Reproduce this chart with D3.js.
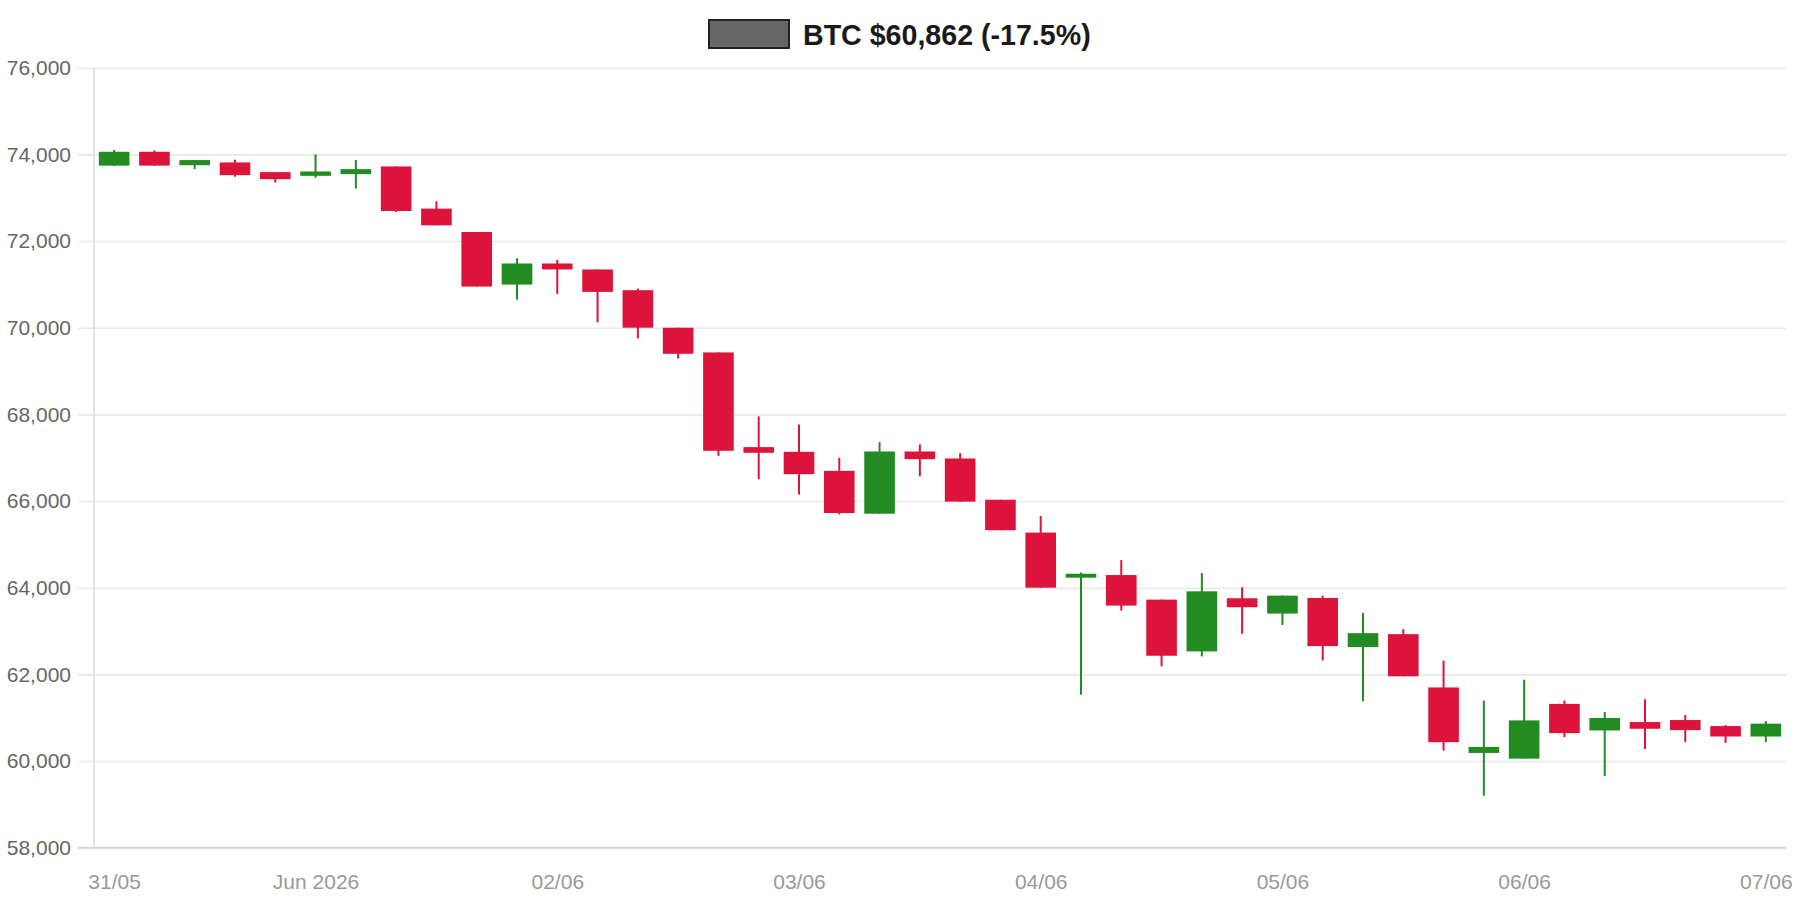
<!DOCTYPE html>
<html>
<head>
<meta charset="utf-8">
<script src="https://cdn.jsdelivr.net/npm/d3@7"></script>
<style>
  html, body { margin: 0; padding: 0; background: #fff; }
  svg { display: block; font-family: "Liberation Sans", Arial, Helvetica, sans-serif; }
</style>
</head>
<body>
<svg id="chart" width="1800" height="900"></svg>
<script>
// ---- data (4-hour candles) ----
const times = [
  "2026-05-31T04:00","2026-05-31T08:00","2026-05-31T12:00","2026-05-31T16:00","2026-05-31T20:00",
  "2026-06-01T00:00","2026-06-01T04:00","2026-06-01T08:00","2026-06-01T12:00","2026-06-01T16:00","2026-06-01T20:00",
  "2026-06-02T00:00","2026-06-02T04:00","2026-06-02T08:00","2026-06-02T12:00","2026-06-02T16:00","2026-06-02T20:00",
  "2026-06-03T00:00","2026-06-03T04:00","2026-06-03T08:00","2026-06-03T12:00","2026-06-03T16:00","2026-06-03T20:00",
  "2026-06-04T00:00","2026-06-04T04:00","2026-06-04T08:00","2026-06-04T12:00","2026-06-04T16:00","2026-06-04T20:00",
  "2026-06-05T00:00","2026-06-05T04:00","2026-06-05T08:00","2026-06-05T12:00","2026-06-05T16:00","2026-06-05T20:00",
  "2026-06-06T00:00","2026-06-06T04:00","2026-06-06T08:00","2026-06-06T12:00","2026-06-06T16:00","2026-06-06T20:00",
  "2026-06-07T00:00"
];
const open  = [73740,74060,73750,73814,73590,73505,73544,73721,72748,72208,70995,
               71482,71344,70865,70000,69429,67244,67136,66696,65708,67144,66982,66030,
               65272,64231,64292,63725,62530,63756,63403,63763,62630,62928,61698,60187,
               60055,61318,60706,60900,60946,60807,60566];
const high  = [74100,74090,73870,73876,73590,74000,73868,73721,72918,72208,71605,
               71567,71344,70904,70000,69429,67954,67768,66997,67360,67306,67105,66030,
               65655,64353,64637,63725,64338,64008,63817,63817,63419,63043,62318,61396,
               61876,61396,61132,61427,61062,60830,60923];
const low   = [73730,73740,73660,73482,73350,73459,73212,72671,72362,70949,70647,
               70780,70124,69753,69290,67043,66503,66148,65692,65708,66573,65986,65326,
               64000,61530,63472,62185,62415,62936,63140,62323,61380,61955,60241,59200,
               60055,60551,59652,60280,60435,60419,60435];
const close = [74060,73740,73868,73520,73428,73605,73659,72694,72362,70949,71482,
               71344,70826,70000,69398,67159,67113,66619,65723,67144,66966,65986,65326,
               64000,64322,63587,62430,63916,63549,63817,62653,62951,61955,60435,60326,
               60938,60644,60993,60745,60714,60566,60862];

const yTicks = [58000,60000,62000,64000,66000,68000,70000,72000,74000,76000];
const xTickTimes  = ["2026-05-31T04:00","2026-06-01T00:00","2026-06-02T00:00","2026-06-03T00:00",
                     "2026-06-04T00:00","2026-06-05T00:00","2026-06-06T00:00","2026-06-07T00:00"];
const xTickLabels = ["31/05","Jun 2026","02/06","03/06","04/06","05/06","06/06","07/06"];
const titleText = "BTC $60,862 (-17.5%)";

(function () {
const UP = "#228B22", DOWN = "#DC143C";

// ---- layout ----
const svg = d3.select("#chart");
const pL = 94, pR = 1786, pT = 67.7, pB = 847.7;

const parse = d3.timeParse("%Y-%m-%dT%H:%M");
const dates = times.map(parse);
const half = 2 * 3600 * 1000;

const x = d3.scaleTime()
  .domain([new Date(+dates[0] - half), new Date(+dates[dates.length - 1] + half)])
  .range([pL, pR]);
const y = d3.scaleLinear().domain([58000, 76000]).range([pB, pT]);

const step = x(dates[1]) - x(dates[0]);
const bodyW = step * 0.76;

// ---- y grid + labels ----
const yAxis = d3.axisLeft(y)
  .tickValues(yTicks)
  .tickFormat(d3.format(","))
  .tickSizeInner(-(pR - 78))
  .tickSizeOuter(0)
  .tickPadding(7);
const gy = svg.append("g").attr("transform", "translate(78,0)").call(yAxis);
gy.select(".domain").remove();
gy.selectAll(".tick line").attr("stroke", "#e9e9e9").attr("stroke-width", 1.6);
gy.selectAll(".tick text").attr("fill", "#666").style("font-size", "21px");

// axis lines
svg.append("line").attr("x1", pL).attr("x2", pL).attr("y1", pT).attr("y2", pB)
  .attr("stroke", "#e2e2e2").attr("stroke-width", 2);
svg.append("line").attr("x1", 78).attr("x2", pR).attr("y1", pB).attr("y2", pB)
  .attr("stroke", "#d8d8d8").attr("stroke-width", 2);

// ---- x labels ----
const xAxis = d3.axisBottom(x)
  .tickValues(xTickTimes.map(parse))
  .tickFormat((d, i) => xTickLabels[i])
  .tickSize(0)
  .tickPadding(26);
const gx = svg.append("g").attr("transform", `translate(0,${pB})`).call(xAxis);
gx.select(".domain").remove();
gx.selectAll(".tick text").attr("fill", "#999").style("font-size", "21px");

// ---- candles ----
const idx = d3.range(dates.length);
const g = svg.append("g");
g.selectAll("line.wick").data(idx).join("line")
  .attr("class", "wick")
  .attr("x1", i => x(dates[i])).attr("x2", i => x(dates[i]))
  .attr("y1", i => y(high[i])).attr("y2", i => y(low[i]))
  .attr("stroke", i => close[i] >= open[i] ? UP : DOWN)
  .attr("stroke-width", 2);
g.selectAll("rect.body").data(idx).join("rect")
  .attr("class", "body")
  .attr("x", i => x(dates[i]) - bodyW / 2)
  .attr("width", bodyW)
  .attr("y", i => y(Math.max(open[i], close[i])))
  .attr("height", i => Math.max(1.5, Math.abs(y(open[i]) - y(close[i]))))
  .attr("fill", i => close[i] >= open[i] ? UP : DOWN);

// ---- legend / title ----
const lg = svg.append("g");
lg.append("rect").attr("x", 709).attr("y", 20).attr("width", 80).attr("height", 28)
  .attr("fill", "#666").attr("stroke", "#222").attr("stroke-width", 2);
lg.append("text").attr("x", 803).attr("y", 44.5)
  .attr("fill", "#1a1a1a").style("font-size", "28.6px").style("font-weight", "bold")
  .text(titleText);
})();
</script>
</body>
</html>
